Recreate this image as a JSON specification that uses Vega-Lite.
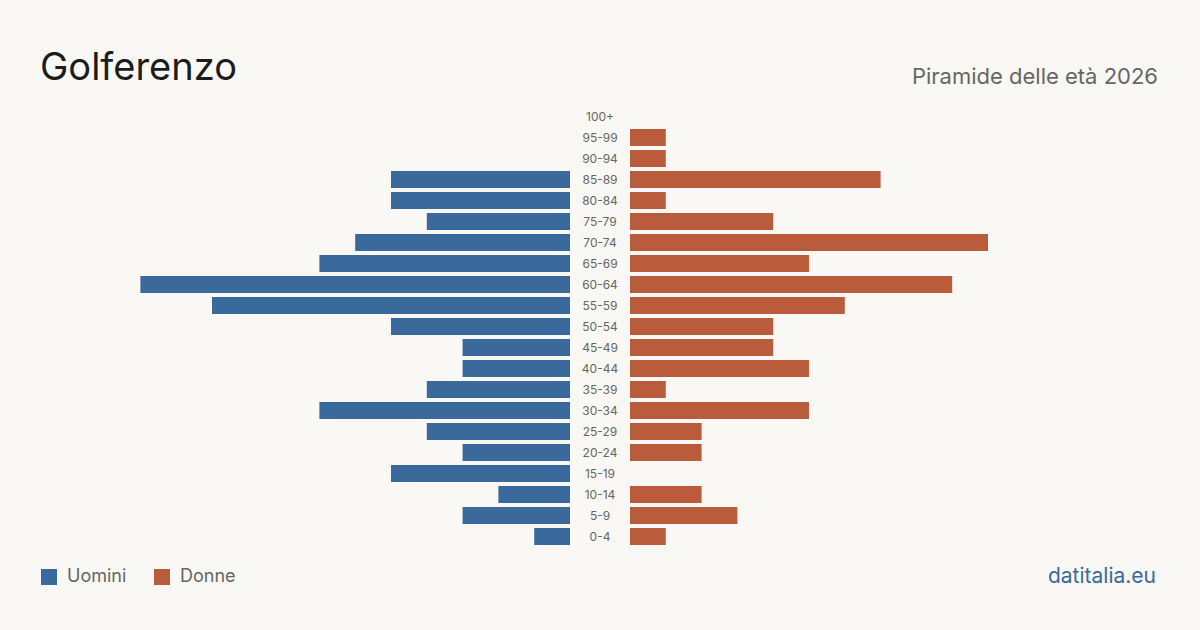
{
  "$schema": "https://vega.github.io/schema/vega-lite/v6.json",
  "background": "#f9f8f4",
  "padding": {"left": 40, "right": 42, "top": 49, "bottom": 46},
  "config": {
    "view": {"stroke": null},
    "font": "Inter",
    "concat": {"spacing": 0}
  },
  "bounds": "flush",
  "spacing": 0,
  "data": {
    "values": [
      {"eta": "100+", "uomini": 0, "donne": 0},
      {"eta": "95-99", "uomini": 0, "donne": 1},
      {"eta": "90-94", "uomini": 0, "donne": 1},
      {"eta": "85-89", "uomini": 5, "donne": 7},
      {"eta": "80-84", "uomini": 5, "donne": 1},
      {"eta": "75-79", "uomini": 4, "donne": 4},
      {"eta": "70-74", "uomini": 6, "donne": 10},
      {"eta": "65-69", "uomini": 7, "donne": 5},
      {"eta": "60-64", "uomini": 12, "donne": 9},
      {"eta": "55-59", "uomini": 10, "donne": 6},
      {"eta": "50-54", "uomini": 5, "donne": 4},
      {"eta": "45-49", "uomini": 3, "donne": 4},
      {"eta": "40-44", "uomini": 3, "donne": 5},
      {"eta": "35-39", "uomini": 4, "donne": 1},
      {"eta": "30-34", "uomini": 7, "donne": 5},
      {"eta": "25-29", "uomini": 4, "donne": 2},
      {"eta": "20-24", "uomini": 3, "donne": 2},
      {"eta": "15-19", "uomini": 5, "donne": 0},
      {"eta": "10-14", "uomini": 2, "donne": 2},
      {"eta": "5-9", "uomini": 3, "donne": 3},
      {"eta": "0-4", "uomini": 1, "donne": 1}
    ]
  },
  "hconcat": [
    {
      "width": 530,
      "height": 441,
      "title": {
        "text": "Golferenzo",
        "anchor": "start",
        "baseline": "alphabetic",
        "offset": -11.5,
        "fontSize": 38,
        "fontWeight": 400,
        "color": "#1c1c1c"
      },
      "mark": {"type": "bar"},
      "encoding": {
        "y": {
          "field": "eta",
          "type": "nominal",
          "sort": null,
          "scale": {
            "domain": ["100+", "95-99", "90-94", "85-89", "80-84", "75-79", "70-74", "65-69", "60-64", "55-59", "50-54", "45-49", "40-44", "35-39", "30-34", "25-29", "20-24", "15-19", "10-14", "5-9", "0-4"],
            "paddingInner": 0.2,
            "paddingOuter": 0.1
          },
          "axis": null
        },
        "x": {
          "field": "uomini",
          "type": "quantitative",
          "scale": {"domain": [0, 14.804], "reverse": true, "nice": false, "zero": true},
          "axis": null
        },
        "color": {
          "datum": "Uomini",
          "type": "nominal",
          "scale": {"domain": ["Uomini", "Donne"], "range": ["#3a6a9c", "#ba5c3c"]},
          "legend": {
            "orient": "none",
            "legendX": 0,
            "legendY": 462,
            "direction": "horizontal",
            "title": null,
            "padding": 0,
            "symbolType": "square",
            "symbolSize": 256,
            "symbolStrokeWidth": 0,
            "symbolOpacity": 1,
            "labelFontSize": 18,
            "labelColor": "#666666",
            "labelOffset": 9,
            "columnPadding": 26
          }
        }
      }
    },
    {
      "width": 60,
      "height": 441,
      "title": {
        "text": "datitalia.eu",
        "orient": "bottom",
        "anchor": "end",
        "baseline": "alphabetic",
        "offset": 35.5,
        "dx": 526,
        "fontSize": 21,
        "fontWeight": 400,
        "color": "#3a6a9c"
      },
      "mark": {"type": "text", "fontSize": 12, "color": "#666666"},
      "encoding": {
        "y": {
          "field": "eta",
          "type": "nominal",
          "sort": null,
          "scale": {
            "domain": ["100+", "95-99", "90-94", "85-89", "80-84", "75-79", "70-74", "65-69", "60-64", "55-59", "50-54", "45-49", "40-44", "35-39", "30-34", "25-29", "20-24", "15-19", "10-14", "5-9", "0-4"],
            "paddingInner": 0.2,
            "paddingOuter": 0.1
          },
          "axis": null
        },
        "text": {"field": "eta", "type": "nominal"}
      }
    },
    {
      "width": 528,
      "height": 441,
      "title": {
        "text": "Piramide delle età 2026",
        "anchor": "end",
        "baseline": "alphabetic",
        "offset": 0.5,
        "fontSize": 22,
        "fontWeight": 400,
        "color": "#666666"
      },
      "mark": {"type": "bar"},
      "encoding": {
        "y": {
          "field": "eta",
          "type": "nominal",
          "sort": null,
          "scale": {
            "domain": ["100+", "95-99", "90-94", "85-89", "80-84", "75-79", "70-74", "65-69", "60-64", "55-59", "50-54", "45-49", "40-44", "35-39", "30-34", "25-29", "20-24", "15-19", "10-14", "5-9", "0-4"],
            "paddingInner": 0.2,
            "paddingOuter": 0.1
          },
          "axis": null
        },
        "x": {
          "field": "donne",
          "type": "quantitative",
          "scale": {"domain": [0, 14.749], "nice": false, "zero": true},
          "axis": null
        },
        "color": {
          "datum": "Donne",
          "type": "nominal",
          "scale": {"domain": ["Uomini", "Donne"], "range": ["#3a6a9c", "#ba5c3c"]}
        }
      }
    }
  ]
}
